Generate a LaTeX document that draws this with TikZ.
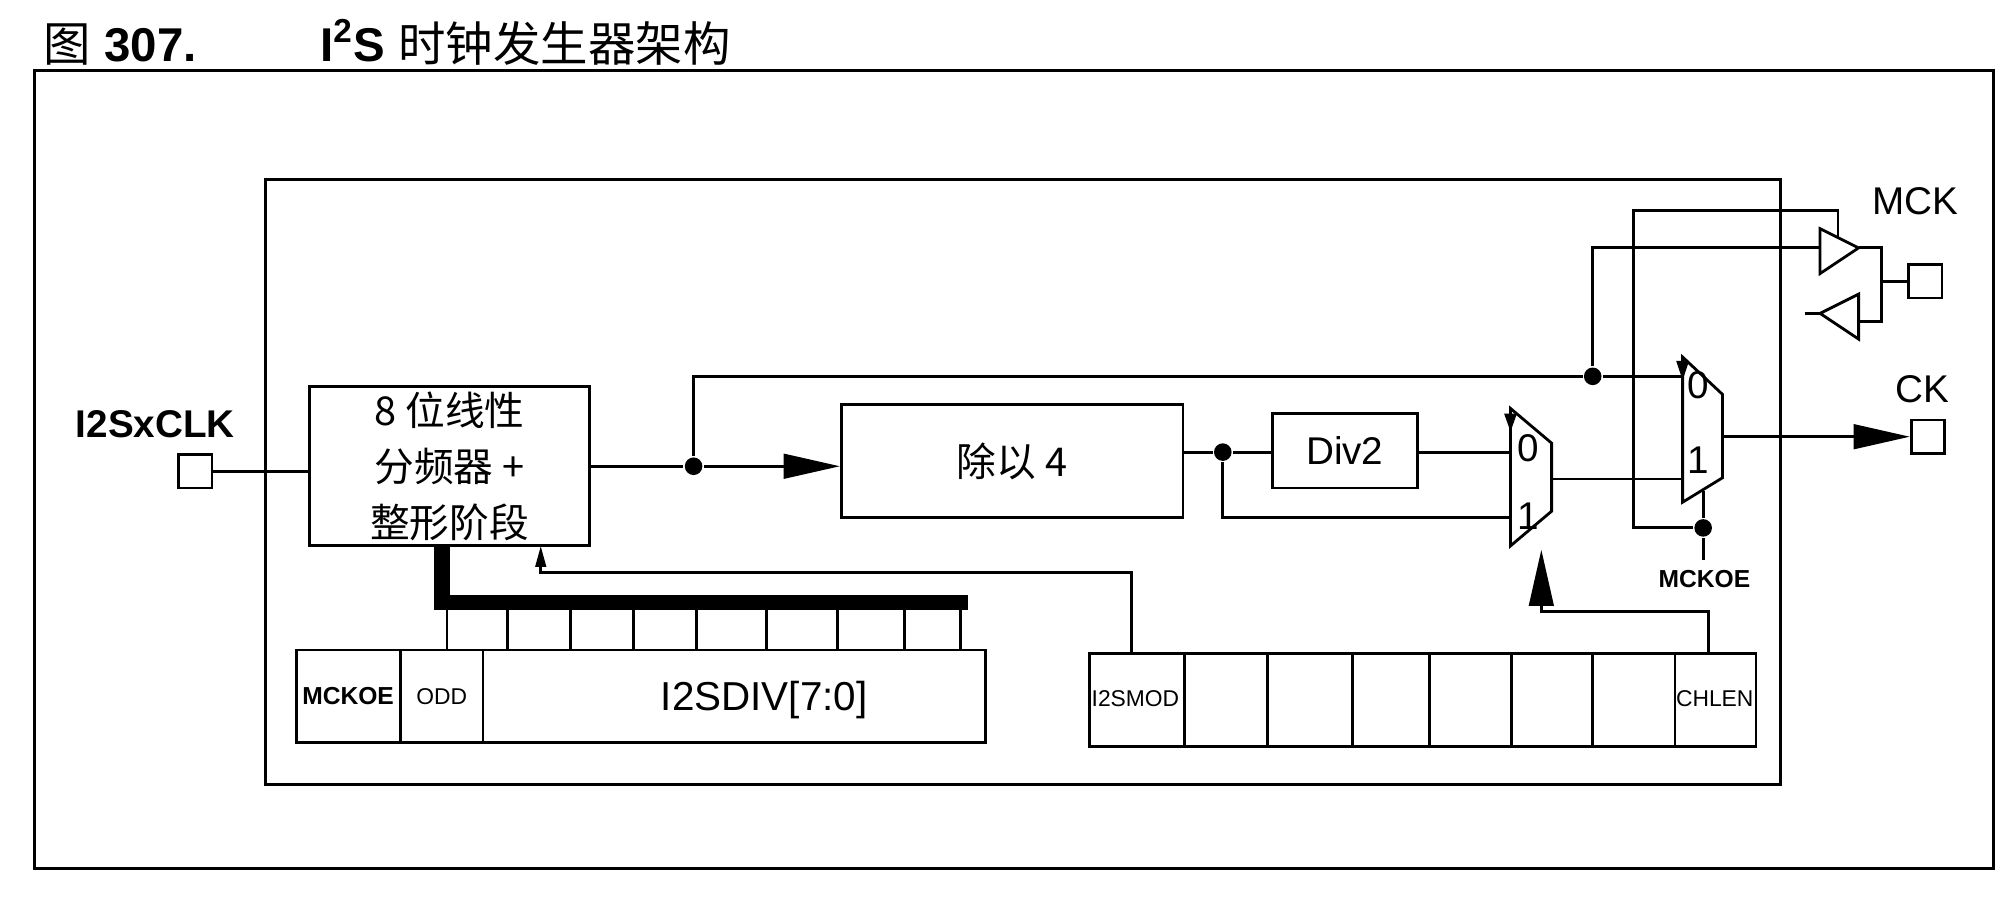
\documentclass[tikz,border=0pt]{standalone}
\usepackage{fontspec}
\setmainfont{Liberation Sans}
\newfontfamily\cjk{Noto Sans CJK SC}
\usetikzlibrary{arrows.meta,calc,positioning}
\tikzstyle{tsLine} = [line width=0.8pt, draw=black]
\tikzstyle{tsBox} = [
    rectangle,
    tsLine,
    inner sep=0pt,
    font=\fontsize{11}{13}\selectfont]
\tikzstyle{tsPad} = [tsBox, minimum size=9.5pt]
\tikzstyle{tsDot} = [circle, fill=black, inner sep=0pt, minimum size=5pt]
\tikzstyle{tsBig} = [-{Triangle[length=16pt,width=7pt]}]
\tikzstyle{tsSmall} = [font=\fontsize{6.5}{7}\selectfont]

\begin{document}
\begin{tikzpicture}[x=0.012845cm, y=-0.012845cm, tsLine, font=\fontsize{11}{13}\selectfont]
        \useasboundingbox (0,0) rectangle (1568,700);

        % title and frames
        \node[anchor=west, font=\fontsize{13.5}{15}\selectfont] (title) at (24,33)
            {{\cjk 图} \textbf{307.}\hspace{2.6em}\textbf{I\textsuperscript{2}S} {\cjk 时钟发生器架构}};
        \draw (27,55) rectangle (1552,676);
        \draw (207,140) rectangle (1386,611);

        % input
        \node[font=\bfseries\fontsize{11}{13}\selectfont] (clkLbl) at (121,330) {I2SxCLK};
        \node[tsPad] (clkPad) at (152,367) {};
        \node[tsBox, minimum width={218*0.012845cm}, minimum height={124*0.012845cm}, align=center,
              font=\cjk\fontsize{11.3}{16}\selectfont] (divider) at (350,363)
              {8 位线性\\分频器 +\\整形阶段};
        \draw (clkPad) -- (divider.west |- clkPad);

        % dividers
        \node[tsBox, minimum width={266*0.012845cm}, minimum height={88*0.012845cm},
              font=\cjk\fontsize{11.3}{13}\selectfont] (div4) at (788,359) {除以 4};
        \node[tsBox, minimum width={113*0.012845cm}, minimum height={58*0.012845cm}] (div2) at (1047,351) {Div2};
        \node[tsDot] (dotA) at (540,363) {};
        \node[tsDot] (dotB) at (952,352) {};
        \node[tsDot] (dotC) at (1240,293) {};
        \node[tsDot] (dotD) at (1326,411) {};
        \draw (divider.east |- dotA) -- (dotA);
        \draw[tsBig] (dotA) -- (div4.west |- dotA);
        \draw (div4.east |- dotB) -- (dotB) -- (div2.west |- dotB);

        % mux 1
        \coordinate (m1a) at (1176,318);
        \coordinate (m1b) at (1208,345);
        \coordinate (m1c) at (1208,398);
        \coordinate (m1d) at (1176,425);
        \draw (m1a) -- (m1b) -- (m1c) -- (m1d) -- cycle;
        \fill (1171,322) -- (1181,322) -- (1176,336) -- cycle;
        \node (m1zero) at (1190,349) {0};
        \node (m1one) at (1190,402) {1};
        \draw (div2.east |- dotB) -- (1176,352);
        \draw (dotB) |- (1176,403);

        % mux 2
        \coordinate (m2a) at (1310,278);
        \coordinate (m2b) at (1341,307);
        \coordinate (m2c) at (1341,372);
        \coordinate (m2d) at (1310,391);
        \draw (m2a) -- (m2b) -- (m2c) -- (m2d) -- cycle;
        \fill (1305,281) -- (1315,281) -- (1310,296) -- cycle;
        \node (m2zero) at (1322,300) {0};
        \node (m2one) at (1322,358) {1};
        \draw (dotA) |- (dotC) -- (1310,293);
        \draw (1208,373) -- (1310,373);

        % outputs
        \node[tsPad] (ckPad) at (1501,340) {};
        \node (ckLbl) at (1497,303) {CK};
        \draw[tsBig] (1341,340) -- (ckPad.west);
        \node[tsPad] (mckPad) at (1499,219) {};
        \node (mckLbl) at (1491,157) {MCK};
        \draw (1417,178) -- (1447,193) -- (1417,213) -- cycle;
        \draw (1417,244) -- (1447,229) -- (1447,264) -- cycle;
        \draw (dotC) |- (1417,193);
        \draw (1447,193) -- (1465,193) -- (1465,250) -- (1447,250);
        \draw (1465,219) -- (mckPad.west);
        \draw (1405,244) -- (1417,244);
        \draw (1326,382) -- (dotD) -- (1326,436);
        \draw (dotD) -- (1272,411) -- (1272,164) -- (1431,164) -- (1431,185);
        \node[font=\bfseries\fontsize{7}{8}\selectfont] (mckoeLbl) at (1327,451) {MCKOE};

        % registers
        \node[tsBox, minimum width={536*0.012845cm}, minimum height={72*0.012845cm}, anchor=north west] (regA) at (230,505) {};
        \draw (312,505) -- (312,577);
        \draw (376,505) -- (376,577);
        \node[font=\bfseries\fontsize{7}{8}\selectfont] (mckoeBit) at (271,542) {MCKOE};
        \node[tsSmall] (oddBit) at (344,542) {ODD};
        \node[font=\fontsize{11.5}{13}\selectfont] (divBits) at (595,545) {I2SDIV[7:0]};

        \node[tsBox, minimum width={519*0.012845cm}, minimum height={72*0.012845cm}, anchor=north west] (regB) at (847,508) {};
        \foreach \x in {922,987,1053,1113,1177,1240,1304}
            \draw (\x,508) -- (\x,580);
        \node[tsSmall] (modBit) at (884,544) {I2SMOD};
        \node[tsSmall] (chlenBit) at (1335,544) {CHLEN};

        % bus
        \draw[line width=4.4pt] (344,425) -- (344,469) -- (754,469);
        \foreach \x in {348,395,444,493,542,597,652,704,748}
            \draw (\x,469) -- (\x,505);
        \draw[-{Triangle[length=6pt,width=3pt]}] (881,508) -- (881,446) -- (421,446) -- (421,425);
        \draw[tsBig] (1330,508) -- (1330,476) -- (1200,476) -- (1200,428);
\end{tikzpicture}
\end{document}
